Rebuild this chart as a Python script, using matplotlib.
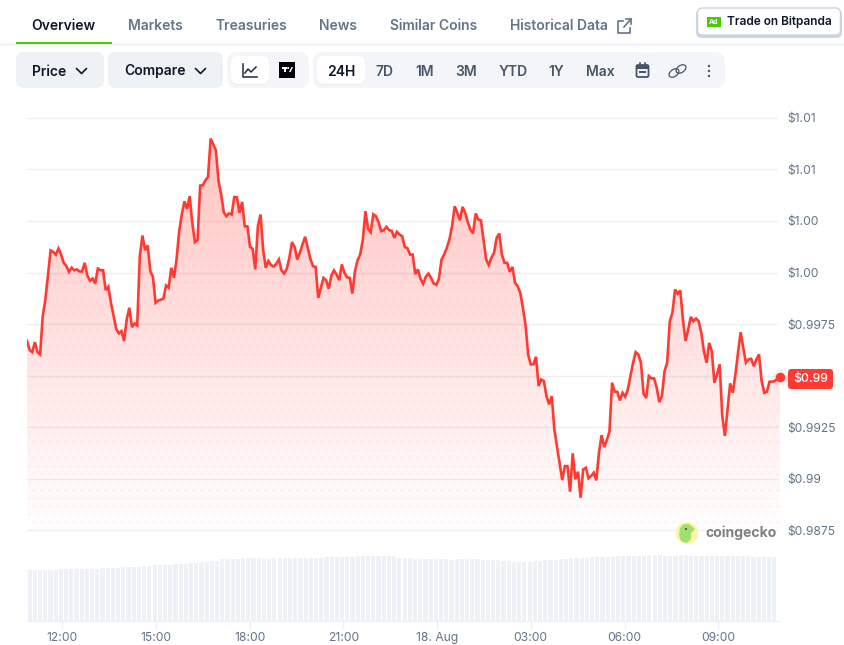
import matplotlib
matplotlib.use('Agg')
from matplotlib import pyplot as plt
from matplotlib.patches import FancyBboxPatch, Circle, Ellipse, Polygon, Rectangle
from matplotlib.colors import LinearSegmentedColormap
import numpy as np

plt.rcParams['font.family'] = ['Inter', 'DejaVu Sans']

# price every 5 minutes
prices = [
    0.99668, 0.99624, 0.99614, 0.99663, 0.99614, 0.99603, 0.99789, 0.99869, 0.99990, 1.00107,
    1.00100, 1.00086, 1.00116, 1.00087, 1.00047, 1.00031, 1.00003, 1.00023, 1.00011, 1.00015,
    1.00005, 1.00005, 1.00047, 0.99985, 0.99960, 0.99971, 0.99947, 1.00019, 1.00011, 1.00011,
    0.99914, 0.99931, 0.99853, 0.99789, 0.99727, 0.99705, 0.99716, 0.99668, 0.99772, 0.99829,
    0.99735, 0.99753, 0.99743, 1.00079, 1.00179, 1.00108, 1.00131, 1.00006, 0.99979, 0.99853,
    0.99864, 0.99868, 0.99874, 0.99937, 0.99927, 1.00023, 0.99974, 1.00063, 1.00200, 1.00281,
    1.00345, 1.00308, 1.00370, 1.00240, 1.00147, 1.00157, 1.00421, 1.00423, 1.00447, 1.00463,
    1.00649, 1.00620, 1.00591, 1.00442, 1.00378, 1.00292, 1.00273, 1.00286, 1.00281, 1.00365,
    1.00365, 1.00289, 1.00342, 1.00224, 1.00224, 1.00124, 1.00115, 1.00015, 1.00224, 1.00281,
    1.00111, 1.00023, 1.00056, 1.00036, 1.00029, 1.00042, 1.00063,
    1.00010, 0.99995, 1.00018, 1.00071, 1.00147, 1.00124, 1.00063, 1.00095, 1.00136, 1.00173,
    1.00119, 1.00066, 1.00031, 1.00027, 0.99877, 0.99926, 0.99974, 0.99963, 0.99921, 0.99985,
    1.00010, 0.99990, 0.99963, 1.00039, 0.99998, 0.99977, 0.99974, 0.99898, 1.00006, 1.00060,
    1.00087, 1.00160, 1.00297, 1.00211, 1.00195, 1.00282, 1.00273, 1.00244, 1.00200, 1.00205,
    1.00221, 1.00205, 1.00202, 1.00168, 1.00197, 1.00184, 1.00176, 1.00123, 1.00118, 1.00087,
    1.00087, 0.99992, 1.00015, 0.99969, 0.99945, 0.99979, 0.99995, 0.99974, 0.99947, 0.99940,
    0.99969, 1.00063, 1.00087, 1.00119, 1.00160, 1.00224, 1.00321, 1.00289, 1.00253, 1.00318,
    1.00289, 1.00245, 1.00208, 1.00189, 1.00286, 1.00257, 1.00253, 1.00160, 1.00063, 1.00036,
    1.00071, 1.00095, 1.00168, 1.00189, 1.00087, 1.00047, 1.00047, 1.00003, 1.00027, 0.99950,
    0.99934, 0.99902, 0.99829, 0.99748, 0.99603, 0.99555,
    0.99555, 0.99592, 0.99450, 0.99482, 0.99474, 0.99401, 0.99361, 0.99401, 0.99240, 0.99159,
    0.99078, 0.98994, 0.99062, 0.99062, 0.98938, 0.99124, 0.98998, 0.99035, 0.98909, 0.99046,
    0.99054, 0.99003, 0.99014, 0.99030, 0.98993, 0.99127, 0.99212, 0.99154, 0.99188, 0.99229,
    0.99466, 0.99422, 0.99422, 0.99380, 0.99417, 0.99398, 0.99433, 0.99498, 0.99563, 0.99614,
    0.99603, 0.99563, 0.99413, 0.99392, 0.99498, 0.99487, 0.99487, 0.99442, 0.99372, 0.99401,
    0.99522, 0.99563, 0.99764, 0.99805, 0.99918, 0.99897, 0.99913, 0.99772, 0.99668, 0.99724,
    0.99785, 0.99764, 0.99777, 0.99764, 0.99708, 0.99619, 0.99563, 0.99659, 0.99619, 0.99466,
    0.99506, 0.99555, 0.99304, 0.99208, 0.99337, 0.99463, 0.99417, 0.99506, 0.99611, 0.99711,
    0.99635, 0.99563, 0.99579, 0.99582, 0.99546, 0.99579, 0.99603, 0.99474, 0.99417, 0.99422,
    0.99471, 0.99471, 0.99474, 0.99485, 0.99493,
]

# volume per 10 minutes, no scale on the chart so units are relative
volumes = [
    51, 51, 51, 51, 51, 51, 52, 52, 52, 52, 52, 52, 52, 52, 53, 53, 53, 53, 54, 54,
    54, 54, 55, 55, 56, 56, 56, 56, 57, 57, 57, 58, 58, 59, 59, 60, 60, 62, 62, 62,
    62, 63, 63, 63, 63, 62, 62, 63, 63, 63, 63, 63, 63, 63, 63, 63, 63, 64, 64, 64,
    64, 64, 64, 65, 65, 65, 65, 65, 65, 65, 65, 63, 63, 63, 62, 62, 62, 62, 62, 62,
    62, 61, 62, 62, 62, 62, 62, 61, 61, 61, 61, 60, 60, 59, 59, 59, 59, 60, 60, 61,
    61, 61, 62, 62, 63, 63, 63, 63, 64, 64, 64, 64, 64, 65, 65, 65, 65, 65, 65, 66,
    66, 66, 65, 65, 65, 66, 66, 65, 65, 65, 65, 65, 65, 65, 65, 65, 65, 65, 65, 64,
    64, 64, 64, 64,
]

price_ticks = [1.0075, 1.005, 1.0025, 1.0, 0.9975, 0.995, 0.9925, 0.99, 0.9875]
price_labels = ['$1.01', '$1.01', '$1.00', '$1.00', '$0.9975', '', '$0.9925', '$0.99', '$0.9875']
time_ticks = [12, 15, 18, 21, 24, 27, 30, 33]
time_labels = ['12:00', '15:00', '18:00', '21:00', '18. Aug', '03:00', '06:00', '09:00']

tabs = ['Overview', 'Markets', 'Treasuries', 'News', 'Similar Coins', 'Historical Data']
ranges = ['24H', '7D', '1M', '3M', 'YTD', '1Y', 'Max']

RED = '#ff3a33'
SLATE = '#64748b'
DARK = '#0f172a'
W, H = 844, 645
HOUR_PX = 31.25  # chart scale, 3h = 93.75px


def axes_px(fig, x0, y0, x1, y1):
    # axes from pixel box, y measured from the top
    return fig.add_axes([x0 / W, 1 - y1 / H, (x1 - x0) / W, (y1 - y0) / H])


def box(ax, x0, y0, x1, y1, color, r=8, ec='none', lw=0, z=1):
    p = FancyBboxPatch((x0 + r, y0 + r), x1 - x0 - 2 * r, y1 - y0 - 2 * r,
                       boxstyle='round,pad=%f,rounding_size=%f' % (r, r),
                       fc=color, ec=ec, lw=lw, zorder=z)
    ax.add_patch(p)


def chevron(ax, cx, cy, color=DARK):
    ax.plot([cx - 5, cx, cx + 5], [cy - 2.5, cy + 2.5, cy - 2.5], color=color, lw=1.2,
            solid_capstyle='round', zorder=3)


fig = plt.figure(figsize=(W / 100, H / 100), dpi=100, facecolor='white')

# page furniture in pixel coordinates
ui = fig.add_axes([0, 0, 1, 1])
ui.set_xlim(0, W)
ui.set_ylim(H, 0)
ui.axis('off')

ui.plot([0, W], [43.5, 43.5], color='#eef0f3', lw=1)
ui.add_patch(Rectangle((16, 42), 96, 2, fc='#4bcc00', ec='none', zorder=3))
tab_x = [31.5, 128, 215.5, 319.5, 389.5, 510.5]
for i, (t, x) in enumerate(zip(tabs, tab_x)):
    ui.text(x, 25.6, t, fontsize=10, fontweight='semibold', va='center',
            color=DARK if i == 0 else SLATE)

# external link icon
ui.plot([623, 618, 618, 630, 630], [21, 21, 33, 33, 28], color=SLATE, lw=1.2)
ui.plot([624, 631], [27, 19], color=SLATE, lw=1.2)
ui.plot([626, 631, 631], [19, 19, 24], color=SLATE, lw=1.2)

# ad button
box(ui, 696, 9, 842, 38, '#cbd5e1', r=6)
box(ui, 697.5, 8, 840.5, 35, 'white', r=5, ec='#cbd5e1', lw=1, z=2)
ui.add_patch(Rectangle((707, 17), 14, 10, fc='#4bcc00', ec='none', zorder=3))
ui.text(714, 22, 'Ad', fontsize=5, fontweight='bold', color='white', ha='center', va='center', zorder=4)
ui.text(727, 22, 'Trade on Bitpanda', fontsize=8.55, fontweight='semibold', color=DARK, va='center', zorder=4)

# selectors
box(ui, 16, 52, 104, 88, '#eff2f5')
box(ui, 108, 52, 223, 88, '#eff2f5')
box(ui, 227, 52, 309, 88, '#f3f5f8', r=10)
box(ui, 313, 52, 725, 88, '#f3f5f8', r=10)
ui.text(32, 71.5, 'Price', fontsize=10, fontweight='semibold', color=DARK, va='center')
ui.text(124, 71.5, 'Compare', fontsize=10, fontweight='semibold', color=DARK, va='center')
chevron(ui, 81.5, 71)
chevron(ui, 200.5, 71)

box(ui, 231, 57, 269, 85, '#e6e9ee', r=7, z=1)
box(ui, 231, 56, 269, 84, 'white', r=7, z=2)
ui.plot([243, 243, 257], [64, 77, 77], color='#1e293b', lw=1.1, zorder=3)
ui.plot([245, 248, 251, 256], [73, 69, 72, 67], color='#1e293b', lw=1.1, zorder=3)
ui.add_patch(Rectangle((279, 62), 16, 16, fc='black', ec='none', zorder=3))
ui.add_patch(Rectangle((282, 67), 4.5, 2, fc='white', ec='none', zorder=4))
ui.add_patch(Rectangle((284, 67), 2, 5, fc='white', ec='none', zorder=4))
ui.add_patch(Circle((288.2, 68), 1, fc='white', ec='none', zorder=4))
ui.add_patch(Polygon([[289, 72], [291.5, 67], [293, 67], [290.7, 72]], fc='white', ec='none', zorder=4))

box(ui, 317, 57, 365, 85, '#e6e9ee', r=7, z=1)
box(ui, 317, 56, 365, 84, 'white', r=7, z=2)
range_x = [341, 385, 425, 466, 513, 556, 600]
for i, (t, x) in enumerate(zip(ranges, range_x)):
    ui.text(x, 71.5, t, fontsize=10, fontweight='semibold', ha='center', va='center', zorder=3,
            color=DARK if i == 0 else '#475569')

# calendar, link and menu icons
box(ui, 636.5, 65, 648.5, 77, 'none', r=1.5, ec='#475569', lw=1.3, z=3)
ui.add_patch(Rectangle((636.5, 65), 12, 3.5, fc='#475569', ec='none', zorder=3))
ui.add_patch(Rectangle((639, 71), 7, 2, fc='#475569', ec='none', zorder=3))
ui.plot([640, 640], [63, 66], color='#475569', lw=1.2, zorder=3)
ui.plot([645, 645], [63, 66], color='#475569', lw=1.2, zorder=3)
for cx, cy in [(674, 73), (681, 69)]:
    ui.add_patch(Ellipse((cx, cy), 11, 7, angle=-35, fc='none', ec='#475569', lw=0.9, zorder=3))
for cy in [66, 71, 76]:
    ui.add_patch(Circle((709, cy), 1.2, fc='#475569', ec='none', zorder=3))
ui.set_zorder(0)

# price chart
hour_left = 12 + (27 - 62) / HOUR_PX
hour_right = 12 + (780 - 62) / HOUR_PX
hours = np.linspace(hour_left, hour_right, len(prices))
price_per_px = 0.0025 / 51.6
ax = axes_px(fig, 27, 100, 780, 535)
ax.set_zorder(1)
ax.set_facecolor('none')
ax.set_xlim(hour_left, hour_right)
ax.set_ylim(1 + (272.5 - 535) * price_per_px, 1 + (272.5 - 100) * price_per_px)

base = 1 + (272.5 - 530) * price_per_px
top = max(prices)
cmap = LinearSegmentedColormap.from_list('fade', [(1, 0.227, 0.2, 0.30), (1, 0.227, 0.2, 0.0)])
grad = ax.imshow(np.linspace(0, 1, 256).reshape(-1, 1), cmap=cmap, aspect='auto', zorder=1,
                 extent=[hour_left, hour_right, base, top], origin='upper')
clip = Polygon(np.column_stack([np.r_[hours[0], hours, hours[-1]], np.r_[base, prices, base]]),
               closed=True, transform=ax.transData, fc='none', ec='none')
ax.add_patch(clip)
grad.set_clip_path(clip)

# dot texture inside the fill
dx, dy = np.meshgrid(np.arange(hour_left + 0.05, hour_right, 8 / HOUR_PX),
                     np.arange(base, top, 8 * price_per_px))
dx[1::2] += 4 / HOUR_PX
dots = ax.scatter(dx.ravel(), dy.ravel(), s=4, color=RED, alpha=0.05, lw=0, zorder=1.5)
dots.set_clip_path(clip)

ax.set_yticks(price_ticks)
ax.set_yticklabels(price_labels, fontsize=8.7, color=SLATE)
ax.yaxis.tick_right()
ax.tick_params(axis='y', length=0, pad=5.5)
ax.set_xticks([])
ax.hlines(price_ticks, hour_left, hour_right - 2 / HOUR_PX, color='#5a6a85', alpha=0.11, lw=1, zorder=2)
for s in ax.spines.values():
    s.set_visible(False)

ax.plot(hours, prices, color=RED, lw=1.9, zorder=4, solid_joinstyle='miter')
ax.scatter([hours[-1]], [prices[-1]], s=130, color=RED, alpha=0.08, lw=0, zorder=4, clip_on=False)
ax.scatter([hours[-1]], [prices[-1]], s=48, color=RED, lw=0, zorder=5, clip_on=False)

# watermark and current price badge
wm = fig.add_axes([0, 0, 1, 1], zorder=2)
wm.set_xlim(0, W)
wm.set_ylim(H, 0)
wm.axis('off')
wm.add_patch(Circle((687, 533), 11, fc='#fdf3a7', ec='none'))
wm.add_patch(Polygon([[679, 535], [680, 528], [684, 524], [689, 524], [695, 529], [691, 533],
                      [691, 539], [687, 543], [681, 541]], fc='#a0e070', ec='none'))
wm.add_patch(Circle((686, 529), 1.1, fc='#555555', ec='none'))
wm.text(705, 533, 'coingecko', fontsize=10.1, fontweight='bold', color='#808080', va='center')
box(wm, 788, 369, 833, 389, RED, r=3, z=5)
wm.text(810.5, 379, '$0.99', fontsize=8.9, fontweight='medium', color='white', ha='center', va='center', zorder=6)

# volume bars
ax_vol = axes_px(fig, 27, 545, 780, 621)
ax_vol.set_facecolor('none')
ax_vol.set_zorder(1)
ax_vol.set_xlim(hour_left, hour_right)
ax_vol.set_ylim(0, 76)
vol_step = 1 / 6
vol_hours = hour_left + vol_step * (np.arange(len(volumes)) + 0.5)
ax_vol.bar(vol_hours, volumes, width=vol_step * 0.8, color='#eef1f5', lw=0)
ax_vol.set_yticks([])
ax_vol.set_xticks(time_ticks)
ax_vol.set_xticklabels(time_labels, fontsize=8.7, color=SLATE)
ax_vol.tick_params(axis='x', length=6, width=1, color='#eceff3', pad=2)
for name, s in ax_vol.spines.items():
    s.set_visible(name == 'bottom')
ax_vol.spines['bottom'].set_color('#eceff3')

fig.savefig('out.png', dpi=100)
plt.close(fig)
